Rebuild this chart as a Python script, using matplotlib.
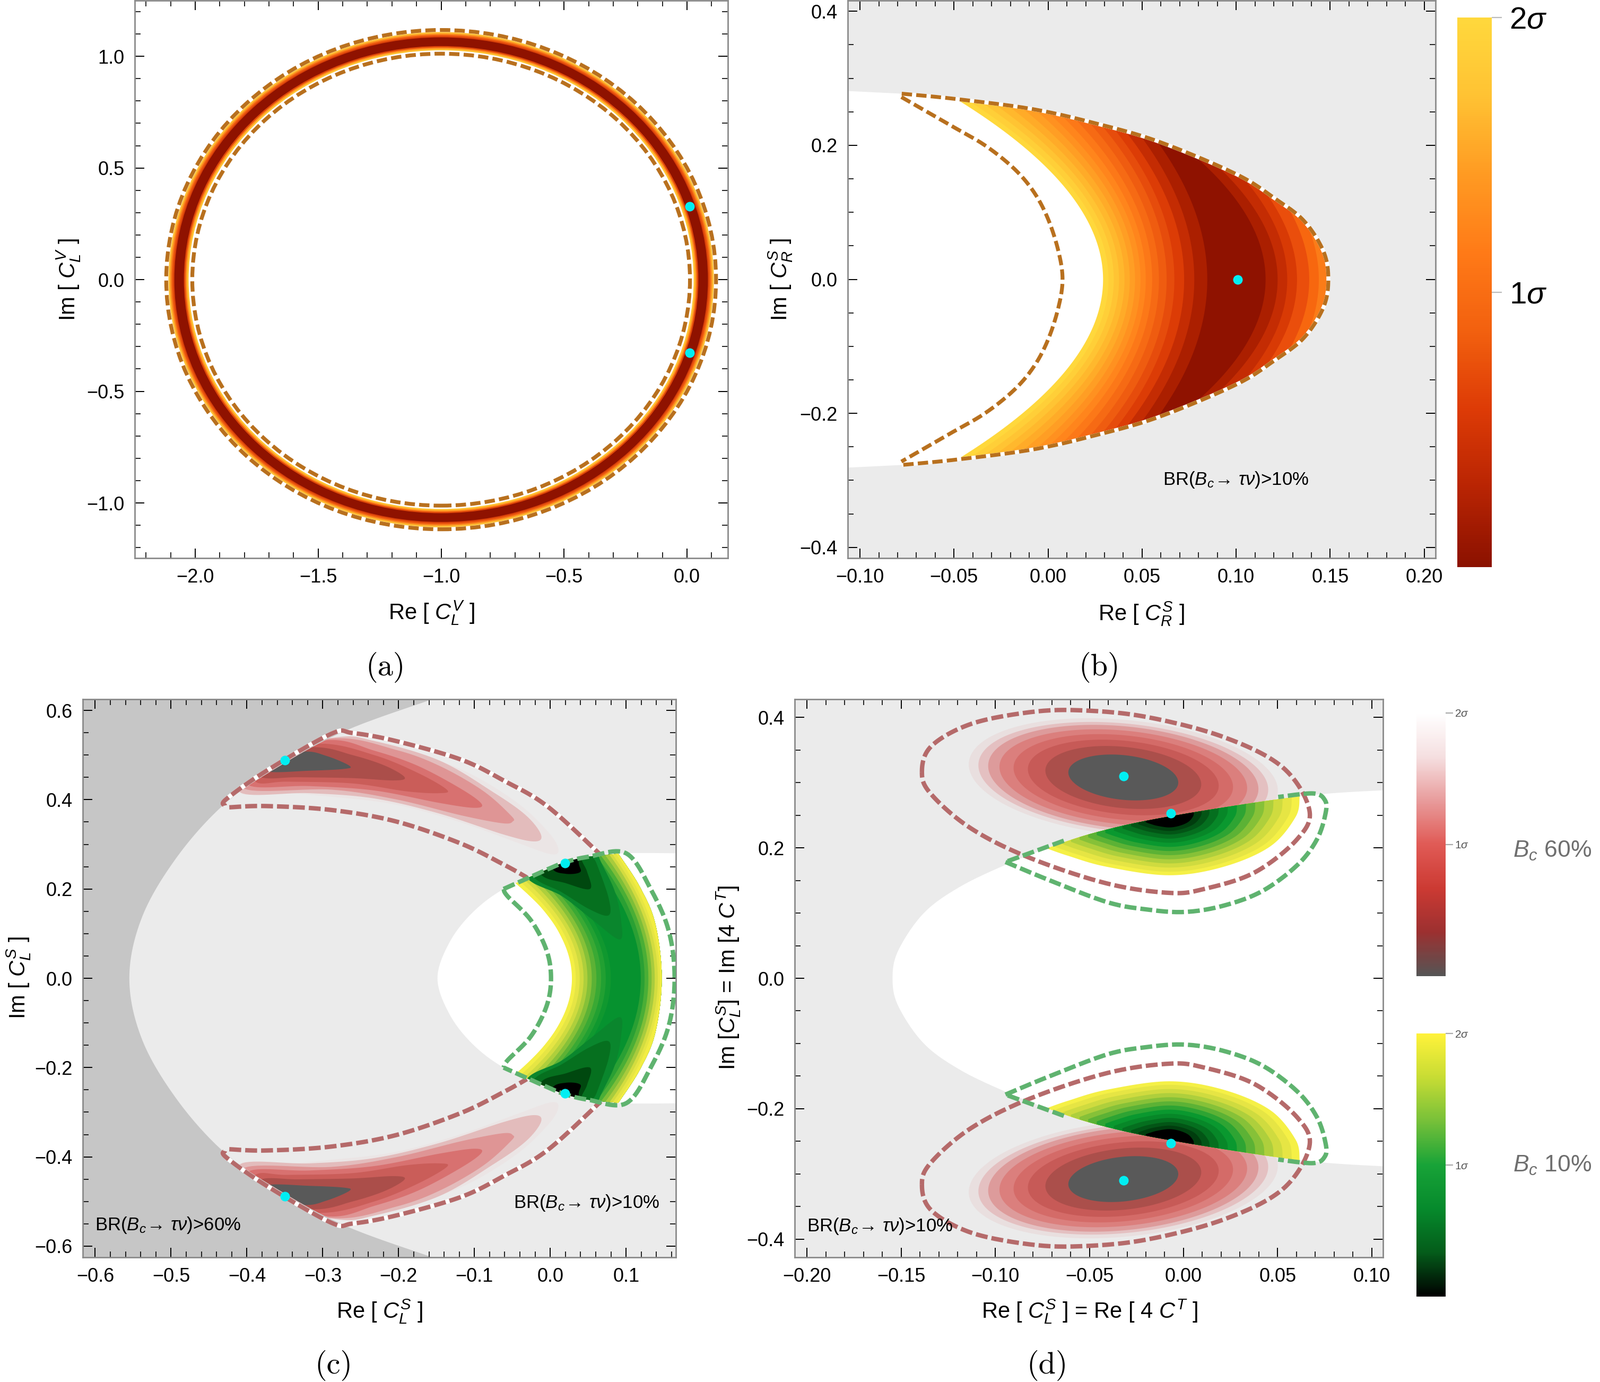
#!/usr/bin/env python
# -*- coding: utf-8 -*-
import numpy as np
import matplotlib
matplotlib.use("Agg")
import matplotlib.pyplot as plt
from matplotlib.patches import Circle, Polygon
from matplotlib.colors import LinearSegmentedColormap, Normalize
from matplotlib.cm import ScalarMappable
from matplotlib.ticker import MultipleLocator

plt.rcParams['font.family'] = ['Liberation Sans', 'DejaVu Sans']
plt.rcParams['mathtext.fontset'] = 'custom'
plt.rcParams['mathtext.rm'] = 'Liberation Sans'
plt.rcParams['mathtext.it'] = 'Liberation Sans:italic'
plt.rcParams['mathtext.bf'] = 'Liberation Sans:bold'

W, H = 3016, 2605

# ---- colours
gray_light = "#ebebeb"
gray_dark = "#c6c6c6"
dash_brown = "#b8701e"
dash_red = "#b56a6a"
dash_green = "#5fb36f"
dot_color = "#00eef2"

# ---- panel (a): ring around (-1, 0)
a_center = (-1.0, 0.0)
a_radii = [1.109, 1.102, 1.096, 1.090, 1.085, 1.046, 1.040, 1.034, 1.027]
a_colors = ["#ffbf35", "#fb8a1e", "#ee5a10", "#d8400a", "#8f1200",
            "#e0480a", "#ff8a1e", "#ffc233", "#ffffff"]
a_dash_radii = [1.118, 1.012]
a_dots = [(0.011, 0.328), (0.011, -0.328)]
a_xticks = [-2.0, -1.5, -1.0, -0.5, 0.0]
a_yticks = [-1.0, -0.5, 0.0, 0.5, 1.0]

# ---- panel (b)
b_outer = [(-0.0778, 0.277), (-0.0487, 0.269), (-0.0082, 0.254), (0.0253, 0.2327),
           (0.0588, 0.2055), (0.100, 0.157), (0.1206, 0.1206), (0.136, 0.0873),
           (0.1464, 0.0418), (0.149, 0.0)]
b_edge = [(-0.1065, 0.281)]
b_inner_dash = [(-0.078, 0.272), (-0.052, 0.23), (-0.0336, 0.2), (-0.018, 0.165), (-0.0075, 0.13),
                (0.0, 0.09), (0.0055, 0.042), (0.0077, 0.0)]
# band edges: x on the axis, then where the edge meets the upper boundary
b_left_x0 = [0.0291, 0.032, 0.0348, 0.0376, 0.0405, 0.0433, 0.0461, 0.049,
             0.0518, 0.0552, 0.0588, 0.0629, 0.067, 0.0722, 0.0776, 0.0845]
b_left_top = [(-0.0487, 0.269), (-0.0423, 0.2666), (-0.0353, 0.264), (-0.0284, 0.2614),
              (-0.0211, 0.2585), (-0.0139, 0.2557), (-0.007, 0.2535), (0.0, 0.249),
              (0.0072, 0.2445), (0.0142, 0.24), (0.0214, 0.2355), (0.0278, 0.232),
              (0.0343, 0.2273), (0.0407, 0.2225), (0.0485, 0.2165), (0.0575, 0.2075)]
b_left_colors = ["#ffd83c", "#ffcf38", "#ffc433", "#ffb82d", "#ffab28", "#ff9e24", "#ff9120", "#ff851c",
                 "#fc7818", "#f66a14", "#ef5c10", "#e64c0c", "#dc3c06", "#c42c03", "#ab1f00", "#8f1200"]
b_right_x0 = [0.1155, 0.1219, 0.127, 0.1322, 0.1387, 0.1438]
b_right_top = [(0.0742, 0.193), (0.0897, 0.17), (0.1026, 0.155), (0.1155, 0.13), (0.1284, 0.103), (0.1387, 0.075)]
b_right_colors = ["#ab1f00", "#c42c03", "#d83a05", "#ea4e0c", "#f7670f", "#fb7c18"]
b_dot = (0.1008, 0.0)
b_xticks = [-0.10, -0.05, 0.00, 0.05, 0.10, 0.15, 0.20]
b_yticks = [-0.4, -0.2, 0.0, 0.2, 0.4]

# ---- panel (c)
c_dark_edge = [(-0.13, 0.64), (-0.159, 0.623), (-0.272, 0.553), (-0.364, 0.4675), (-0.431, 0.388),
               (-0.492, 0.272), (-0.538, 0.138), (-0.555, 0.0)]
c_white_edge = [(0.17, 0.28), (0.0974, 0.28), (0.05, 0.272), (0.02, 0.26), (-0.005, 0.243), (-0.0615, 0.2),
                (-0.1026, 0.147), (-0.133, 0.08), (-0.1487, 0.0)]
c_lobes = [
    [(-0.2834, 0.5413), (-0.2035, 0.5156), (-0.1179, 0.4681), (-0.0465, 0.3968), (-0.0037, 0.3295), (0.0106, 0.2899),
     (0.0006, 0.278), (-0.0465, 0.3057), (-0.1179, 0.3493), (-0.2035, 0.3889), (-0.2891, 0.4067), (-0.3605, 0.4166),
     (-0.409, 0.4166), (-0.389, 0.4958)],
    [(-0.2834, 0.5394), (-0.232, 0.5314), (-0.1464, 0.4879), (-0.075, 0.4166), (-0.0322, 0.3651), (-0.0122, 0.3216),
     (-0.0208, 0.3065), (-0.0608, 0.3216), (-0.1464, 0.369), (-0.232, 0.4027), (-0.3176, 0.4146), (-0.409, 0.4166),
     (-0.389, 0.4958)],
    [(-0.2834, 0.5374), (-0.2035, 0.5116), (-0.1464, 0.476), (-0.0893, 0.4206), (-0.0522, 0.3651), (-0.0494, 0.3513),
     (-0.0636, 0.3473), (-0.1179, 0.3651), (-0.2035, 0.4008), (-0.2891, 0.4225), (-0.4033, 0.4245), (-0.389, 0.4958)],
    [(-0.292, 0.5334), (-0.232, 0.5097), (-0.1749, 0.476), (-0.1179, 0.4245), (-0.0907, 0.3909), (-0.1007, 0.3818),
     (-0.1464, 0.3928), (-0.232, 0.4206), (-0.3176, 0.4305), (-0.3976, 0.4324), (-0.389, 0.4958)],
    [(-0.3034, 0.5255), (-0.232, 0.4998), (-0.1749, 0.4602), (-0.1364, 0.4225), (-0.1464, 0.4146), (-0.1892, 0.4186),
     (-0.2606, 0.4364), (-0.3462, 0.4404), (-0.389, 0.4404), (-0.40, 0.50)],
    [(-0.3119, 0.5176), (-0.2606, 0.4998), (-0.2177, 0.476), (-0.192, 0.4503), (-0.2063, 0.4431), (-0.2606, 0.4483),
     (-0.3319, 0.4503), (-0.3833, 0.4515), (-0.40, 0.50)],
    [(-0.3262, 0.5077), (-0.2948, 0.4978), (-0.2648, 0.476), (-0.272, 0.4689), (-0.3176, 0.4649), (-0.3747, 0.4633),
     (-0.39, 0.49)],
]
c_lobe_colors = ["#ebe5e5", "#e3bcbc", "#df9595", "#d87170", "#ca5d59", "#ab4e4a", "#595959"]
c_red_dash = [(-0.4289, 0.3869), (-0.4275, 0.4008), (-0.3747, 0.4641), (-0.2891, 0.5473), (-0.2606, 0.5493),
              (-0.2035, 0.5314), (-0.1179, 0.4899), (-0.0608, 0.4423), (-0.0037, 0.385), (0.0667, 0.276)]
c_red_dash2 = [(-0.4232, 0.3829), (-0.3747, 0.3857), (-0.2891, 0.377), (-0.2035, 0.3513), (-0.1179, 0.3018),
               (-0.0608, 0.2542), (-0.031, 0.226)]
c_green_top = [(-0.046, 0.213), (-0.005, 0.243), (0.02, 0.26), (0.05, 0.272), (0.0897, 0.279)]
c_green_outer = [(0.0897, 0.279), (0.118, 0.205), (0.1385, 0.122), (0.147, 0.0)]
c_green_inner = [(-0.046, 0.213), (-0.0103, 0.155), (0.0154, 0.088), (0.028, 0.0)]
c_left_x0 = [0.0282, 0.0333, 0.0385, 0.0436, 0.0487, 0.0544, 0.0605, 0.0667, 0.0728, 0.0795]
c_left_top = [(-0.046, 0.213), (-0.041, 0.2185), (-0.036, 0.2235), (-0.031, 0.227), (-0.0256, 0.231),
              (-0.0205, 0.234), (-0.0154, 0.236), (-0.0103, 0.238), (-0.005, 0.239), (0.0, 0.24)]
c_left_colors = ["#f4ef45", "#e6e544", "#cfdb3f", "#aecf3c", "#86c138", "#5cb235", "#3aa934", "#22a032", "#10982f", "#06922f"]
c_right_x0 = [0.119, 0.124, 0.129, 0.1333, 0.1374, 0.1415, 0.1446]
c_right_top = [(0.0564, 0.262), (0.0641, 0.266), (0.0692, 0.269), (0.0744, 0.271), (0.0795, 0.273), (0.083, 0.275), (0.0872, 0.277)]
c_right_colors = ["#2aa034", "#4aae36", "#7dbe38", "#a8cb3d", "#d3dc3f", "#e6e544", "#f2ed42"]
c_wedges = [
    [(-0.031, 0.226), (0.0154, 0.184), (0.0564, 0.13), (0.0913, 0.087), (0.0933, 0.13), (0.0846, 0.197), (0.0641, 0.272), (0.0641, 0.30), (-0.031, 0.30)],
    [(-0.0231, 0.23), (0.0154, 0.1925), (0.0513, 0.155), (0.0769, 0.141), (0.0769, 0.18), (0.0615, 0.255), (0.0564, 0.272), (0.0564, 0.30), (-0.0231, 0.30)],
    [(-0.0128, 0.234), (0.0205, 0.213), (0.0523, 0.20), (0.0487, 0.238), (0.041, 0.2675), (0.041, 0.30), (-0.0128, 0.30)],
    [(0.0026, 0.2467), (0.0205, 0.234), (0.0395, 0.238), (0.0374, 0.259), (0.0374, 0.30), (0.0026, 0.30)],
]
c_wedge_colors = ["#0a862d", "#06701f", "#00480f", "#000000"]
c_green_dash_out = [(-0.0615, 0.2), (-0.005, 0.243), (0.02, 0.26), (0.05, 0.272), (0.10, 0.28), (0.1333, 0.197), (0.1564, 0.105), (0.164, 0.0)]
c_green_dash_in = [(-0.0615, 0.2), (-0.0564, 0.184), (-0.0256, 0.13), (-0.005, 0.063), (0.001, 0.0)]
c_dots = [(-0.35, 0.488), (0.0195, 0.2575)]
c_xticks = [-0.6, -0.5, -0.4, -0.3, -0.2, -0.1, 0.0, 0.1]
c_yticks = [-0.6, -0.4, -0.2, 0.0, 0.2, 0.4, 0.6]

# ---- panel (d)
d_white_edge = [(0.11, 0.289), (0.0617, 0.279), (-0.0077, 0.248), (-0.045, 0.225), (-0.072, 0.2),
                (-0.0946, 0.174), (-0.119, 0.14), (-0.138, 0.1), (-0.1515, 0.043), (-0.1546, 0.0)]
d_red_cx, d_red_cy = -0.032, 0.308
d_red_a = [0.0821, 0.077, 0.0718, 0.0658, 0.0583, 0.0507, 0.0414, 0.0292]
d_red_h = [0.0909, 0.0852, 0.0807, 0.0739, 0.0665, 0.058, 0.0483, 0.0352]
d_red_colors = ["#e9dfdf", "#e4c0c1", "#dd9b9b", "#db7f7d", "#d46b68", "#c75a57", "#ab4f4b", "#595959"]
d_green_anchor = (-0.0077, 0.2486)
d_green_arc = [(-0.0728, 0.1994), (-0.0615, 0.188), (-0.0408, 0.171), (-0.0077, 0.158),
               (0.0213, 0.171), (0.0461, 0.2023), (0.0596, 0.2477), (0.0617, 0.279)]
d_green_cap = [(0.0617, 0.32), (-0.0728, 0.30)]
d_green_scale = [1.0, 0.94, 0.87, 0.80, 0.73, 0.66, 0.59, 0.52, 0.45, 0.38, 0.31, 0.25, 0.19]
d_green_colors = ["#f5f046", "#e6e544", "#cfdb3f", "#aecf3c", "#86c138", "#5cb235", "#2ea433",
                  "#0a982f", "#078728", "#056f1f", "#035516", "#013d0e", "#000000"]
d_red_dash = [(-0.139, 0.316), (-0.134, 0.356), (-0.113, 0.39), (-0.082, 0.408), (-0.055, 0.411), (-0.02, 0.401),
              (0.0213, 0.37), (0.0525, 0.324), (0.0668, 0.259), (0.0606, 0.214), (0.0379, 0.1625), (0.011, 0.137),
              (-0.0077, 0.131), (-0.0408, 0.1455), (-0.082, 0.185), (-0.113, 0.23), (-0.134, 0.282)]
d_green_dash = [(-0.0636, 0.211), (-0.0946, 0.1784)]
d_green_dash2 = [(-0.0946, 0.1784), (-0.0718, 0.151), (-0.0408, 0.117), (-0.02, 0.1057), (0.0006, 0.1017), (0.0213, 0.1114),
                 (0.042, 0.134), (0.0606, 0.174), (0.071, 0.2136), (0.0755, 0.2534), (0.0751, 0.2733), (0.0689, 0.2835), (0.0503, 0.278)]
d_dots = [(-0.0319, 0.310), (-0.0068, 0.2528)]
d_xticks = [-0.20, -0.15, -0.10, -0.05, 0.00, 0.05, 0.10]
d_yticks = [-0.4, -0.2, 0.0, 0.2, 0.4]

# ---- colour bars
bar_hot = ["#8b1100", "#b82403", "#dd3b06", "#f2600f", "#ff7a17", "#ff9a22", "#ffc233", "#ffd83c"]
bar_red = ["#555555", "#9c3030", "#cc3a33", "#e05a55", "#e89b9b", "#f5dfe0", "#ffffff"]
bar_green = ["#000000", "#045c1a", "#068a2c", "#18a338", "#76c039", "#c7dc34", "#fff23a"]
bar_ticks = [1, 2]
bar_ticklabels = ["1$\\sigma$", "2$\\sigma$"]


def smooth(pts, closed=False, n=14):
    # Catmull-Rom through the read points
    p = np.array(pts, dtype=float)
    if closed:
        p = np.vstack([p[-1], p, p[0], p[1]])
    else:
        p = np.vstack([p[0], p, p[-1]])
    t = np.linspace(0, 1, n, endpoint=False)[:, None]
    out = []
    for i in range(1, len(p) - 2):
        p0, p1, p2, p3 = p[i - 1], p[i], p[i + 1], p[i + 2]
        out.append(0.5 * (2 * p1 + (p2 - p0) * t + (2 * p0 - 5 * p1 + 4 * p2 - p3) * t ** 2
                          + (3 * p1 - p0 - 3 * p2 + p3) * t ** 3))
    out = np.vstack(out)
    if not closed:
        out = np.vstack([out, p[-2]])
    return out


def flip(pts):
    return [(x, -y) for x, y in pts]


def both(half):
    # upper half ending on y=0, continued through its mirror image
    return list(half) + flip(half[-2::-1])


def new_axes(left, right, top, bottom, xlim, ylim, xticks, yticks, xminor, yminor, xfmt, yfmt):
    ax = fig.add_axes([left / W, 1 - bottom / H, (right - left) / W, (bottom - top) / H])
    ax.set_xlim(xlim)
    ax.set_ylim(ylim)
    ax.set_xticks(xticks)
    ax.set_yticks(yticks)
    ax.set_xticklabels([xfmt.format(v).replace("-", "\u2212") for v in xticks])
    ax.set_yticklabels([yfmt.format(v).replace("-", "\u2212") for v in yticks])
    ax.xaxis.set_minor_locator(MultipleLocator(xminor))
    ax.yaxis.set_minor_locator(MultipleLocator(yminor))
    ax.tick_params(which='major', direction='in', top=True, right=True, length=6.5, width=0.7, labelsize=13, pad=7)
    ax.tick_params(which='minor', direction='in', top=True, right=True, length=3.8, width=0.6)
    for s in ax.spines.values():
        s.set_color("#8a8a8a")
        s.set_linewidth(1.0)
    return ax


def dashed(ax, pts, color, under=False, z=4, is_smooth=True, lw=2.6, pat=(2.7, 1.1)):
    xy = smooth(pts) if is_smooth else np.array(pts)
    if under:
        ax.plot(xy[:, 0], xy[:, 1], color="white", lw=lw, zorder=z - 0.1, solid_capstyle='butt')
    ax.plot(xy[:, 0], xy[:, 1], color=color, lw=lw, dashes=pat, zorder=z, dash_capstyle='butt')


def clip_to(artist, xy, ax):
    artist.set_clip_path(Polygon(xy, closed=True, transform=ax.transData))


def fill_right(ax, x0, top, color, xmax, clip, z):
    # region to the right of a band edge, parabola through the axis point and the top point
    xt, yt = top
    yy = np.linspace(-0.32, 0.32, 201)
    xx = x0 + (xt - x0) * (yy / yt) ** 2
    art = ax.fill_betweenx(yy, xx, xmax, color=color, lw=0, zorder=z)
    clip_to(art, clip, ax)


def dots(ax, pts):
    xs = [p[0] for p in pts]
    ys = [p[1] for p in pts]
    ax.plot(xs, ys, 'o', color=dot_color, ms=6.5, mew=0, zorder=8)


def colorbar(left, right, top, bottom, colors, size, tick_len, tick_color, text_color, pad):
    cax = fig.add_axes([left / W, 1 - bottom / H, (right - left) / W, (bottom - top) / H])
    cmap = LinearSegmentedColormap.from_list("bar", colors)
    cb = fig.colorbar(ScalarMappable(Normalize(0, 2), cmap), cax=cax, ticks=bar_ticks)
    cb.ax.set_yticklabels(bar_ticklabels)
    cb.ax.tick_params(length=tick_len, width=0.8, color=tick_color, labelsize=size, labelcolor=text_color, pad=pad)
    cb.outline.set_visible(False)
    return cb


fig = plt.figure(figsize=(W / 200, H / 200), dpi=200)
fig.patch.set_facecolor("white")
br_size = 12.5
thick = dict(lw=3.0, pat=(2.7, 0.9))

# ---------------- (a)
ax = new_axes(254, 1372, 1, 1052, (-2.246, 0.166), (-1.247, 1.25), a_xticks, a_yticks, 0.1, 0.1, "{:.1f}", "{:.1f}")
for r, col in zip(a_radii, a_colors):
    ax.add_patch(Circle(a_center, r, fc=col, ec="none", zorder=1))
for r in a_dash_radii:
    ax.add_patch(Circle(a_center, r, fc="none", ec=dash_brown, lw=2.6, ls=(0, (2.7, 1.1)), zorder=4))
dots(ax, a_dots)

# ---------------- (b)
ax = new_axes(1598, 2706, 1, 1052, (-0.1065, 0.206), (-0.416, 0.416), b_xticks, b_yticks, 0.01, 0.05, "{:.2f}", "{:.1f}")
ax.set_facecolor(gray_light)
outer_b = smooth(both(b_outer))
white_b = np.vstack([[(-0.2, 0.281)], b_edge, outer_b, [(-0.1065, -0.281), (-0.2, -0.281)]])
ax.fill(white_b[:, 0], white_b[:, 1], color="white", lw=0, zorder=1)
for x0, top, col in zip(b_left_x0, b_left_top, b_left_colors):
    fill_right(ax, x0, top, col, 0.2, white_b, 2)
for x0, top, col in zip(b_right_x0, b_right_top, b_right_colors):
    fill_right(ax, x0, top, col, 0.2, white_b, 2.5)
dashed(ax, both(b_outer), dash_brown, under=True)
dashed(ax, both(b_inner_dash), dash_brown)
dots(ax, [b_dot])
ax.text(0.0998, -0.2996, "BR($B_c\\!\\rightarrow\\,\\tau\\nu$)>10%", fontsize=br_size, ha='center', va='center', zorder=9)
colorbar(2747, 2812, 33, 1069, bar_hot, 21, 7, "#bbbbbb", "black", 5)

# ---------------- (c)
ax = new_axes(156, 1274, 1318, 2370, (-0.6164, 0.1656), (-0.625, 0.625), c_xticks, c_yticks, 0.02, 0.05, "{:.1f}", "{:.1f}")
ax.set_facecolor(gray_light)
edge_c = smooth(both(c_dark_edge))
dark_c = np.vstack([edge_c, [(-0.7, -0.64), (-0.7, 0.64)]])
ax.fill(dark_c[:, 0], dark_c[:, 1], color=gray_dark, lw=0, zorder=1)
white_c = smooth(both(c_white_edge))
ax.fill(white_c[:, 0], white_c[:, 1], color="white", lw=0, zorder=1)
light_c = np.vstack([edge_c, [(0.3, -0.64), (0.3, 0.64)]])
for lobe, col in zip(c_lobes, c_lobe_colors):
    for pts in (lobe, flip(lobe)):
        xy = smooth(pts, closed=True)
        for art in ax.fill(xy[:, 0], xy[:, 1], color=col, lw=0, zorder=2):
            clip_to(art, light_c, ax)
for pts in (c_red_dash, flip(c_red_dash)):
    dashed(ax, pts, dash_red, under=True, **thick)
for pts in (c_red_dash2, flip(c_red_dash2)):
    dashed(ax, pts, dash_red, **thick)
# crescent with the green bands
crescent = np.vstack([smooth(c_green_top), smooth(both(c_green_outer)),
                      smooth(flip(c_green_top)[::-1]), smooth(both(c_green_inner))[::-1]])
for x0, top, col in zip(c_left_x0, c_left_top, c_left_colors):
    fill_right(ax, x0, top, col, 0.2, crescent, 3)
for x0, top, col in zip(c_right_x0, c_right_top, c_right_colors):
    fill_right(ax, x0, top, col, 0.2, crescent, 3.5)
for wedge, col in zip(c_wedges, c_wedge_colors):
    for pts in (wedge, flip(wedge)):
        xy = smooth(pts, closed=True)
        for art in ax.fill(xy[:, 0], xy[:, 1], color=col, lw=0, zorder=3.7):
            clip_to(art, crescent, ax)
dashed(ax, both(c_green_dash_out), dash_green, z=5, **thick)
dashed(ax, both(c_green_dash_in), dash_green, z=5, **thick)
dots(ax, c_dots + flip(c_dots))
ax.text(-0.60, -0.553, "BR($B_c\\!\\rightarrow\\,\\tau\\nu$)>60%", fontsize=br_size, va='center', zorder=9)
ax.text(-0.0487, -0.503, "BR($B_c\\!\\rightarrow\\,\\tau\\nu$)>10%", fontsize=br_size, va='center', zorder=9)

# ---------------- (d)
ax = new_axes(1498, 2607, 1318, 2370, (-0.2066, 0.106), (-0.428, 0.428), d_xticks, d_yticks, 0.01, 0.05, "{:.2f}", "{:.1f}")
ax.set_facecolor(gray_light)
white_d = smooth(both(d_white_edge))
ax.fill(white_d[:, 0], white_d[:, 1], color="white", lw=0, zorder=1)
upper_gray = np.vstack([smooth(d_white_edge), [(-0.3, 0.0), (-0.3, 0.5), (0.11, 0.5)]])
tt = np.linspace(0, 2 * np.pi, 181)
green_shape = np.vstack([smooth(d_green_arc), d_green_cap])
anchor = np.array(d_green_anchor)
for sign, gray_clip in ((1, upper_gray), (-1, upper_gray * [1, -1])):
    for a, h, col in zip(d_red_a, d_red_h, d_red_colors):
        b = 0.975 * h
        s = 0.22 * h
        xx = d_red_cx + a * np.cos(tt)
        yy = sign * (d_red_cy + b * np.sin(tt) - s * np.cos(tt))
        for art in ax.fill(xx, yy, color=col, lw=0, zorder=2):
            clip_to(art, gray_clip, ax)
    for sc, col in zip(d_green_scale, d_green_colors):
        xy = (anchor + (green_shape - anchor) * sc) * [1, sign]
        for art in ax.fill(xy[:, 0], xy[:, 1], color=col, lw=0, zorder=3):
            clip_to(art, white_d, ax)
for mirror_pts in (d_red_dash, flip(d_red_dash)):
    xy = smooth(mirror_pts, closed=True)
    xy = np.vstack([xy, xy[0]])
    dashed(ax, xy, dash_red, is_smooth=False, z=4, **thick)
for pts in (d_green_dash, flip(d_green_dash), d_green_dash2, flip(d_green_dash2)):
    dashed(ax, pts, dash_green, z=5, **thick)
dots(ax, d_dots + flip(d_dots))
ax.text(-0.20, -0.38, "BR($B_c\\!\\rightarrow\\,\\tau\\nu$)>10%", fontsize=br_size, va='center', zorder=9)

# ---------------- side bars of (c), (d)
for top, bottom, colors in ((1344, 1840, bar_red), (1948, 2444, bar_green)):
    cb = colorbar(2670, 2725, top, bottom, colors, 7.5, 5, "#aaaaaa", "#555555", 1)
    cb.ax.axvline(1.9, color="#999999", lw=1.4)
fig.text(2926 / W, 1 - 1604 / H, "$B_c$ 60%", fontsize=16, color="#6f6f6f", ha='center', va='center')
fig.text(2926 / W, 1 - 2197 / H, "$B_c$ 10%", fontsize=16, color="#6f6f6f", ha='center', va='center')

# ---------------- labels and captions
label_size = 15
labels = [
    (814, 1155, "Re [ $C_L^V$ ]", 0), (129, 527, "Im [ $C_L^V$ ]", 90),
    (2152, 1157, "Re [ $C_R^S$ ]", 0), (1471, 527, "Im [ $C_R^S$ ]", 90),
    (716, 2472, "Re [ $C_L^S$ ]", 0), (35, 1843, "Im [ $C_L^S$ ]", 90),
    (2054, 2472, "Re [ $C_L^S$ ] = Re [ 4 $C^T$ ]", 0), (1373, 1843, "Im [$C_L^S$] = Im [4 $C^T$]", 90),
]
for x, y, s, rot in labels:
    fig.text(x / W, 1 - y / H, s, fontsize=label_size, rotation=rot, ha='center', va='center')
captions = [(727, 1258, "(a)"), (2072, 1258, "(b)"), (629, 2574, "(c)"), (1974, 2574, "(d)")]
for x, y, s in captions:
    fig.text(x / W, 1 - y / H, s, fontsize=21, family='cmr10', ha='center', va='center')

plt.savefig("out.png", dpi=200)
